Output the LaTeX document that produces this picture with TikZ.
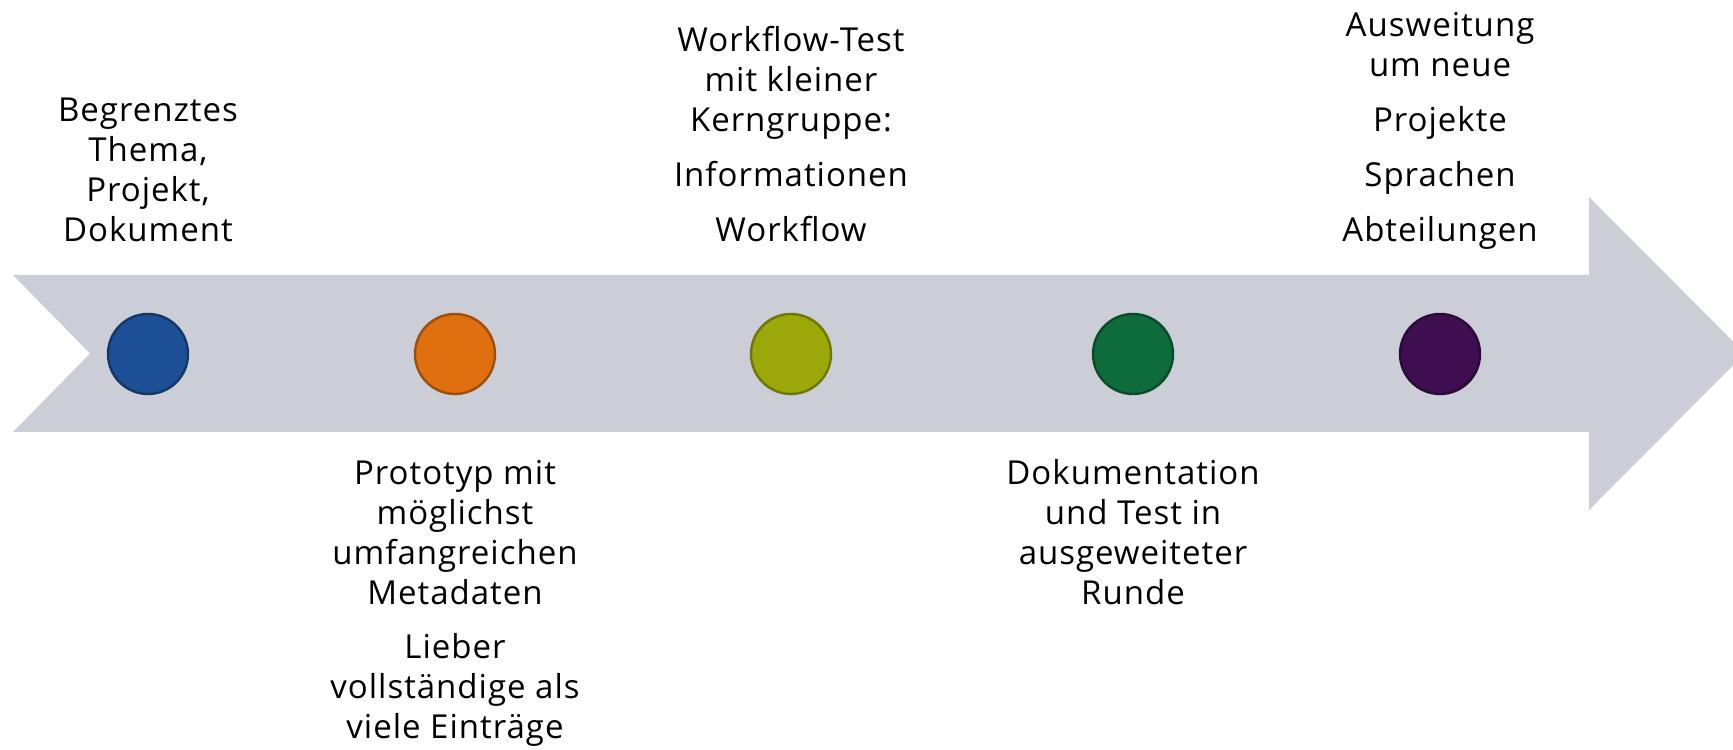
\documentclass[tikz,border=0pt]{standalone}
\usepackage{fontspec}
\setmainfont[LetterSpace=3]{Open Sans}
\usetikzlibrary{positioning}
\definecolor{Band}{HTML}{CBCED6}
\definecolor{cBlue}{HTML}{1C4F95}
\definecolor{cOrange}{HTML}{E0700F}
\definecolor{cLime}{HTML}{9CA80A}
\definecolor{cGreen}{HTML}{0E6B3C}
\definecolor{cPurple}{HTML}{3E0E50}
\tikzstyle{Dot} = [circle, minimum size=40pt, inner sep=0pt, line width=1.2pt]
\tikzstyle{Text} = [align=center, font=\fontsize{16.5}{20}\selectfont]

\begin{document}
\begin{tikzpicture}[x=0.5pt, y=0.5pt]
    \useasboundingbox (0,0) rectangle (1733,749);
    \clip (0,0) rectangle (1733,749);
    % the band
    \fill[Band] (13,474) -- (1589,474) -- (1589,552) -- (1745,395.5) -- (1589,239)
        -- (1589,317) -- (13,317) -- (90,395.5) -- cycle;
    \node[Dot, fill=cBlue,   draw=cBlue!70!black]     (p_scope)  at (148,395)  {};
    \node[Dot, fill=cOrange, draw=cOrange!70!black]   (p_proto)  at (455,395)  {};
    \node[Dot, fill=cLime,   draw=cLime!70!black]     (p_test)   at (791,395)  {};
    \node[Dot, fill=cGreen,  draw=cGreen!70!black]    (p_doc)    at (1133,395) {};
    \node[Dot, fill=cPurple, draw=cPurple!70!black]   (p_expand) at (1440,395) {};
    \node[Text] (t_scope)  [above=26pt of p_scope]  {Begrenztes\\Thema,\\Projekt,\\Dokument\strut};
    \node[Text] (t_proto)  [below=27pt of p_proto]  {\strut Prototyp mit\\möglichst\\umfangreichen\\Metadaten\\[7pt]
        Lieber\\vollständige als\\viele Einträge};
    \node[Text] (t_test)   [above=26pt of p_test]   {Workflow-Test\\mit kleiner\\Kerngruppe:\\[7.5pt]
        Informationen\\[7.5pt]Workflow\strut};
    \node[Text] (t_doc)    [below=27pt of p_doc]    {\strut Dokumentation\\und Test in\\ausgeweiteter\\Runde};
    \node[Text] (t_expand) [above=26pt of p_expand] {Ausweitung\\um neue\\[7.5pt]Projekte\\[7.5pt]
        Sprachen\\[7.5pt]Abteilungen\strut};
  \end{tikzpicture}
\end{document}
